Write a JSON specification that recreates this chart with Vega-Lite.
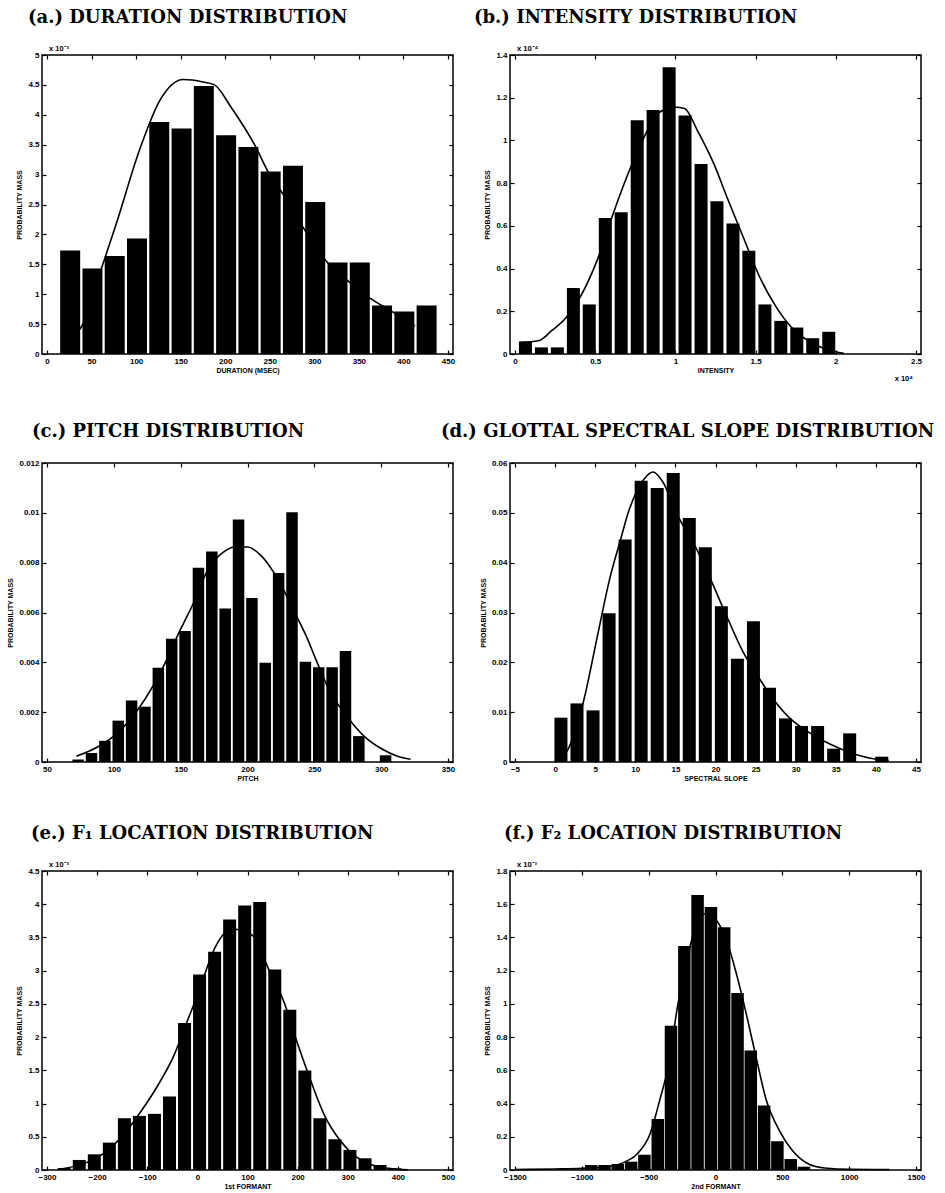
{
  "$schema": "https://vega.github.io/schema/vega-lite/v6.json",
  "background": "white",
  "padding": {"left": 6, "top": 8, "right": 5, "bottom": 5},
  "columns": 2,
  "spacing": {"column": 57, "row": 109},
  "bounds": "flush",
  "config": {
    "view": {"stroke": "black", "strokeWidth": 1.5},
    "axis": {"grid": false, "domain": false, "tickColor": "black", "tickSize": -4, "tickWidth": 1.2,
      "labelFont": "Liberation Sans", "labelFontSize": 8, "labelFontWeight": "bold", "labelColor": "black",
      "labelPadding": 7, "labelFlush": false, "labelOverlap": false, "format": "~r",
      "titleFont": "Liberation Sans", "titleFontSize": 7, "titleFontWeight": "bold", "titleColor": "black"},
    "axisY": {"titlePadding": 5},
    "axisX": {"titlePadding": 1},
    "title": {"font": "DejaVu Serif", "fontSize": 18, "fontWeight": "bold", "color": "black", "anchor": "start", "frame": "group", "offset": 18},
    "text": {"font": "Liberation Sans", "fontSize": 7.5, "fontWeight": "bold", "color": "black"}
  },
  "datasets": {
    "a_bars": [
      {"center": 26, "mass": 1.73}, {"center": 51, "mass": 1.43}, {"center": 76, "mass": 1.64}, {"center": 101, "mass": 1.93},
      {"center": 126, "mass": 3.88}, {"center": 151, "mass": 3.77}, {"center": 176, "mass": 4.48}, {"center": 201, "mass": 3.66},
      {"center": 226, "mass": 3.46}, {"center": 251, "mass": 3.05}, {"center": 276, "mass": 3.15}, {"center": 301, "mass": 2.54},
      {"center": 326, "mass": 1.53}, {"center": 351, "mass": 1.53}, {"center": 376, "mass": 0.81}, {"center": 401, "mass": 0.71},
      {"center": 426, "mass": 0.81}
    ],
    "a_curve": [
      {"x": 33, "y": 0.35}, {"x": 38, "y": 0.44}, {"x": 62, "y": 1.47}, {"x": 78, "y": 2.19}, {"x": 104, "y": 3.42},
      {"x": 127, "y": 4.25}, {"x": 153, "y": 4.59}, {"x": 175, "y": 4.55}, {"x": 188, "y": 4.5}, {"x": 206, "y": 4.14},
      {"x": 234, "y": 3.47}, {"x": 247, "y": 3.08}, {"x": 265, "y": 2.67}, {"x": 289, "y": 2.08}, {"x": 313, "y": 1.56},
      {"x": 338, "y": 1.22}, {"x": 362, "y": 0.94}, {"x": 386, "y": 0.72}, {"x": 413, "y": 0.47}
    ],
    "b_bars": [
      {"center": 0.065, "mass": 0.059}, {"center": 0.165, "mass": 0.031}, {"center": 0.264, "mass": 0.031}, {"center": 0.364, "mass": 0.309},
      {"center": 0.463, "mass": 0.232}, {"center": 0.563, "mass": 0.637}, {"center": 0.662, "mass": 0.664}, {"center": 0.762, "mass": 1.095},
      {"center": 0.861, "mass": 1.142}, {"center": 0.961, "mass": 1.343}, {"center": 1.06, "mass": 1.117}, {"center": 1.16, "mass": 0.89},
      {"center": 1.259, "mass": 0.715}, {"center": 1.359, "mass": 0.611}, {"center": 1.458, "mass": 0.484}, {"center": 1.558, "mass": 0.232},
      {"center": 1.657, "mass": 0.155}, {"center": 1.757, "mass": 0.124}, {"center": 1.856, "mass": 0.074}, {"center": 1.956, "mass": 0.104}
    ],
    "b_curve": [
      {"x": 0.034, "y": 0.054}, {"x": 0.146, "y": 0.062}, {"x": 0.227, "y": 0.108}, {"x": 0.318, "y": 0.17}, {"x": 0.409, "y": 0.27},
      {"x": 0.521, "y": 0.456}, {"x": 0.612, "y": 0.657}, {"x": 0.713, "y": 0.859}, {"x": 0.794, "y": 0.998}, {"x": 0.896, "y": 1.129},
      {"x": 0.997, "y": 1.156}, {"x": 1.057, "y": 1.149}, {"x": 1.139, "y": 1.044}, {"x": 1.24, "y": 0.89}, {"x": 1.321, "y": 0.735},
      {"x": 1.422, "y": 0.549}, {"x": 1.523, "y": 0.364}, {"x": 1.625, "y": 0.224}, {"x": 1.716, "y": 0.131}, {"x": 1.827, "y": 0.062},
      {"x": 1.95, "y": 0.02}, {"x": 2.05, "y": 0.003}
    ],
    "c_bars": [
      {"center": 73.3, "mass": 0.0001}, {"center": 83.3, "mass": 0.00036}, {"center": 93.3, "mass": 0.00085}, {"center": 103.3, "mass": 0.00166},
      {"center": 113.3, "mass": 0.00247}, {"center": 123.3, "mass": 0.00222}, {"center": 133.3, "mass": 0.00378}, {"center": 143.3, "mass": 0.00495},
      {"center": 153.3, "mass": 0.00526}, {"center": 163.3, "mass": 0.0078}, {"center": 173.3, "mass": 0.00845}, {"center": 183.3, "mass": 0.00616},
      {"center": 193.3, "mass": 0.00973}, {"center": 203.3, "mass": 0.00658}, {"center": 213.3, "mass": 0.00398}, {"center": 223.3, "mass": 0.00759},
      {"center": 233.3, "mass": 0.01002}, {"center": 243.3, "mass": 0.00402}, {"center": 253.3, "mass": 0.0038}, {"center": 263.3, "mass": 0.0038},
      {"center": 273.3, "mass": 0.00445}, {"center": 283.3, "mass": 0.00104}, {"center": 303.3, "mass": 0.00027}
    ],
    "c_curve": [
      {"x": 72, "y": 0.00023}, {"x": 87.8, "y": 0.0006}, {"x": 102.4, "y": 0.00115}, {"x": 119.5, "y": 0.00222}, {"x": 136.6, "y": 0.00378},
      {"x": 148.8, "y": 0.0052}, {"x": 159.8, "y": 0.0064}, {"x": 170.7, "y": 0.00775}, {"x": 180.5, "y": 0.00836}, {"x": 190.2, "y": 0.00863},
      {"x": 200, "y": 0.00863}, {"x": 209.8, "y": 0.0083}, {"x": 219.5, "y": 0.00762}, {"x": 229.3, "y": 0.00667}, {"x": 236.6, "y": 0.00587},
      {"x": 243.9, "y": 0.00506}, {"x": 251.2, "y": 0.00411}, {"x": 261, "y": 0.0029}, {"x": 275.6, "y": 0.00175}, {"x": 287.8, "y": 0.00101},
      {"x": 300, "y": 0.00054}, {"x": 312.2, "y": 0.00023}, {"x": 322, "y": 0.00011}
    ],
    "d_bars": [
      {"center": 0.73, "mass": 0.00889}, {"center": 2.73, "mass": 0.01176}, {"center": 4.73, "mass": 0.01036}, {"center": 6.73, "mass": 0.02987},
      {"center": 8.73, "mass": 0.04463}, {"center": 10.73, "mass": 0.05646}, {"center": 12.73, "mass": 0.05499}, {"center": 14.73, "mass": 0.058},
      {"center": 16.73, "mass": 0.04898}, {"center": 18.73, "mass": 0.0431}, {"center": 20.73, "mass": 0.03127}, {"center": 22.73, "mass": 0.02071},
      {"center": 24.73, "mass": 0.02826}, {"center": 26.73, "mass": 0.0149}, {"center": 28.73, "mass": 0.00875}, {"center": 30.73, "mass": 0.00722},
      {"center": 32.73, "mass": 0.00722}, {"center": 34.73, "mass": 0.00267}, {"center": 36.73, "mass": 0.00575}, {"center": 40.73, "mass": 0.00107}
    ],
    "d_curve": [
      {"x": 0.06, "y": 0.0002}, {"x": 1.6, "y": 0.0025}, {"x": 3.5, "y": 0.0119}, {"x": 5.32, "y": 0.0256}, {"x": 6.74, "y": 0.0363},
      {"x": 8.16, "y": 0.0446}, {"x": 9.17, "y": 0.0503}, {"x": 10.18, "y": 0.0543}, {"x": 11.2, "y": 0.057}, {"x": 12.2, "y": 0.0582},
      {"x": 13.4, "y": 0.0563}, {"x": 15.24, "y": 0.0496}, {"x": 17.55, "y": 0.043}, {"x": 19.3, "y": 0.037}, {"x": 21.3, "y": 0.0296},
      {"x": 23.4, "y": 0.0222}, {"x": 25.4, "y": 0.0169}, {"x": 27.4, "y": 0.0122}, {"x": 29.4, "y": 0.0086}, {"x": 31.4, "y": 0.0062},
      {"x": 33.5, "y": 0.0042}, {"x": 35.5, "y": 0.0027}, {"x": 37.5, "y": 0.0015}, {"x": 39.5, "y": 0.0007}, {"x": 41.6, "y": 0.0003}
    ],
    "e_bars": [
      {"center": -265.6, "mass": 0.03}, {"center": -235.6, "mass": 0.151}, {"center": -205.6, "mass": 0.236}, {"center": -175.6, "mass": 0.412},
      {"center": -145.6, "mass": 0.779}, {"center": -115.6, "mass": 0.814}, {"center": -85.6, "mass": 0.845}, {"center": -55.6, "mass": 1.106},
      {"center": -25.6, "mass": 2.212}, {"center": 4.4, "mass": 2.941}, {"center": 34.4, "mass": 3.283}, {"center": 64.4, "mass": 3.771},
      {"center": 94.4, "mass": 3.982}, {"center": 124.4, "mass": 4.032}, {"center": 154.4, "mass": 3.017}, {"center": 184.4, "mass": 2.413},
      {"center": 214.4, "mass": 1.498}, {"center": 244.4, "mass": 0.779}, {"center": 274.4, "mass": 0.463}, {"center": 304.4, "mass": 0.302},
      {"center": 334.4, "mass": 0.176}, {"center": 364.4, "mass": 0.075}, {"center": 394.4, "mass": 0.025}
    ],
    "e_curve": [
      {"x": -272, "y": 0.015}, {"x": -216.7, "y": 0.126}, {"x": -177.7, "y": 0.3}, {"x": -145.2, "y": 0.553}, {"x": -112.7, "y": 0.88},
      {"x": -80.2, "y": 1.257}, {"x": -47.6, "y": 1.709}, {"x": -21.6, "y": 2.212}, {"x": 4.4, "y": 2.715}, {"x": 30.4, "y": 3.27},
      {"x": 50, "y": 3.53}, {"x": 69.4, "y": 3.63}, {"x": 92.2, "y": 3.59}, {"x": 111.7, "y": 3.52}, {"x": 142.3, "y": 3.02},
      {"x": 173.5, "y": 2.514}, {"x": 199.5, "y": 1.91}, {"x": 225.5, "y": 1.357}, {"x": 254.8, "y": 0.804}, {"x": 284, "y": 0.452},
      {"x": 316.6, "y": 0.201}, {"x": 349, "y": 0.075}, {"x": 381.6, "y": 0.025}, {"x": 420.6, "y": 0.003}
    ],
    "f_bars": [
      {"center": -930, "mass": 0.03}, {"center": -830, "mass": 0.03}, {"center": -731, "mass": 0.036}, {"center": -631, "mass": 0.05},
      {"center": -532, "mass": 0.092}, {"center": -432, "mass": 0.307}, {"center": -333, "mass": 0.868}, {"center": -233, "mass": 1.348},
      {"center": -134, "mass": 1.655}, {"center": -34, "mass": 1.583}, {"center": 65, "mass": 1.462}, {"center": 165, "mass": 1.065},
      {"center": 264, "mass": 0.719}, {"center": 364, "mass": 0.388}, {"center": 463, "mass": 0.173}, {"center": 563, "mass": 0.066},
      {"center": 662, "mass": 0.02}
    ],
    "f_curve": [
      {"x": -1500, "y": 0.003}, {"x": -1200, "y": 0.006}, {"x": -1000, "y": 0.01}, {"x": -800, "y": 0.02}, {"x": -684, "y": 0.046},
      {"x": -587, "y": 0.096}, {"x": -490, "y": 0.217}, {"x": -418, "y": 0.418}, {"x": -345, "y": 0.659}, {"x": -285, "y": 0.98},
      {"x": -224, "y": 1.221}, {"x": -151, "y": 1.462}, {"x": -79, "y": 1.543}, {"x": 6, "y": 1.503}, {"x": 91, "y": 1.362},
      {"x": 163, "y": 1.161}, {"x": 236, "y": 0.92}, {"x": 309, "y": 0.659}, {"x": 381, "y": 0.418}, {"x": 478, "y": 0.237},
      {"x": 575, "y": 0.117}, {"x": 696, "y": 0.036}, {"x": 817, "y": 0.012}, {"x": 1011, "y": 0.004}, {"x": 1300, "y": 0.003}
    ]
  },
  "concat": [
    {
      "title": {"text": "(a.) DURATION DISTRIBUTION", "dx": -14},
      "width": 411, "height": 299,
      "resolve": {"axis": {"x": "independent", "y": "independent"}},
      "layer": [
        {"data": {"name": "a_bars"}, "mark": {"type": "bar", "color": "black", "size": 20},
          "encoding": {
            "x": {"field": "center", "type": "quantitative", "scale": {"domain": [0, 450], "nice": false, "zero": false},
              "axis": {"values": [0, 50, 100, 150, 200, 250, 300, 350, 400, 450], "title": "DURATION (MSEC)"}},
            "y": {"field": "mass", "type": "quantitative", "scale": {"domain": [0, 5], "nice": false},
              "axis": {"values": [0, 0.5, 1, 1.5, 2, 2.5, 3, 3.5, 4, 4.5, 5], "title": "PROBABILITY MASS"}}}},
        {"data": {"name": "a_curve"}, "mark": {"type": "line", "color": "black", "strokeWidth": 1.6, "interpolate": "monotone"},
          "encoding": {
            "x": {"field": "x", "type": "quantitative", "scale": {"domain": [0, 450], "nice": false, "zero": false},
              "axis": {"orient": "top", "labels": false, "title": null, "values": [0, 50, 100, 150, 200, 250, 300, 350, 400, 450]}},
            "y": {"field": "y", "type": "quantitative", "scale": {"domain": [0, 5], "nice": false},
              "axis": {"orient": "right", "labels": false, "title": null, "values": [0, 0.5, 1, 1.5, 2, 2.5, 3, 3.5, 4, 4.5, 5]}}}},
        {"data": {"values": [{"label": "x 10⁻³"}]}, "mark": {"type": "text", "align": "left", "baseline": "bottom", "dx": 2, "dy": -2},
          "encoding": {"x": {"datum": 0, "axis": null}, "y": {"datum": 5, "axis": null}, "text": {"field": "label"}}}
      ]
    },
    {
      "title": {"text": "(b.) INTENSITY DISTRIBUTION", "dx": -36},
      "width": 411, "height": 299,
      "resolve": {"axis": {"x": "independent", "y": "independent"}},
      "layer": [
        {"data": {"name": "b_bars"}, "mark": {"type": "bar", "color": "black", "size": 13},
          "encoding": {
            "x": {"field": "center", "type": "quantitative", "scale": {"domain": [0, 2.5], "nice": false, "zero": false},
              "axis": {"values": [0, 0.5, 1, 1.5, 2, 2.5], "title": "INTENSITY"}},
            "y": {"field": "mass", "type": "quantitative", "scale": {"domain": [0, 1.4], "nice": false},
              "axis": {"values": [0, 0.2, 0.4, 0.6, 0.8, 1, 1.2, 1.4], "title": "PROBABILITY MASS"}}}},
        {"data": {"name": "b_curve"}, "mark": {"type": "line", "color": "black", "strokeWidth": 1.6, "interpolate": "monotone"},
          "encoding": {
            "x": {"field": "x", "type": "quantitative", "scale": {"domain": [0, 2.5], "nice": false, "zero": false},
              "axis": {"orient": "top", "labels": false, "title": null, "values": [0, 0.5, 1, 1.5, 2, 2.5]}},
            "y": {"field": "y", "type": "quantitative", "scale": {"domain": [0, 1.4], "nice": false},
              "axis": {"orient": "right", "labels": false, "title": null, "values": [0, 0.2, 0.4, 0.6, 0.8, 1, 1.2, 1.4]}}}},
        {"data": {"values": [{"label": "x 10⁻⁴"}]}, "mark": {"type": "text", "align": "left", "baseline": "bottom", "dx": 2, "dy": -2},
          "encoding": {"x": {"datum": 0, "axis": null}, "y": {"datum": 1.4, "axis": null}, "text": {"field": "label"}}},
        {"data": {"values": [{"label": "x 10⁴"}]}, "mark": {"type": "text", "align": "right", "baseline": "middle", "dx": -3, "dy": 25},
          "encoding": {"x": {"datum": 2.5, "axis": null}, "y": {"datum": 0, "axis": null}, "text": {"field": "label"}}}
      ]
    },
    {
      "title": {"text": "(c.) PITCH DISTRIBUTION", "dx": -10},
      "width": 411, "height": 299,
      "resolve": {"axis": {"x": "independent", "y": "independent"}},
      "layer": [
        {"data": {"name": "c_bars"}, "mark": {"type": "bar", "color": "black", "size": 11.5},
          "encoding": {
            "x": {"field": "center", "type": "quantitative", "scale": {"domain": [50, 350], "nice": false, "zero": false},
              "axis": {"values": [50, 100, 150, 200, 250, 300, 350], "title": "PITCH"}},
            "y": {"field": "mass", "type": "quantitative", "scale": {"domain": [0, 0.012], "nice": false},
              "axis": {"values": [0, 0.002, 0.004, 0.006, 0.008, 0.01, 0.012], "title": "PROBABILITY MASS"}}}},
        {"data": {"name": "c_curve"}, "mark": {"type": "line", "color": "black", "strokeWidth": 1.6, "interpolate": "monotone"},
          "encoding": {
            "x": {"field": "x", "type": "quantitative", "scale": {"domain": [50, 350], "nice": false, "zero": false},
              "axis": {"orient": "top", "labels": false, "title": null, "values": [50, 100, 150, 200, 250, 300, 350]}},
            "y": {"field": "y", "type": "quantitative", "scale": {"domain": [0, 0.012], "nice": false},
              "axis": {"orient": "right", "labels": false, "title": null, "values": [0, 0.002, 0.004, 0.006, 0.008, 0.01, 0.012]}}}}
      ]
    },
    {
      "title": {"text": "(d.) GLOTTAL SPECTRAL SLOPE DISTRIBUTION", "dx": -69},
      "width": 411, "height": 299,
      "resolve": {"axis": {"x": "independent", "y": "independent"}},
      "layer": [
        {"data": {"name": "d_bars"}, "mark": {"type": "bar", "color": "black", "size": 13},
          "encoding": {
            "x": {"field": "center", "type": "quantitative", "scale": {"domain": [-5, 45], "nice": false, "zero": false},
              "axis": {"values": [-5, 0, 5, 10, 15, 20, 25, 30, 35, 40, 45], "title": "SPECTRAL SLOPE"}},
            "y": {"field": "mass", "type": "quantitative", "scale": {"domain": [0, 0.06], "nice": false},
              "axis": {"values": [0, 0.01, 0.02, 0.03, 0.04, 0.05, 0.06], "title": "PROBABILITY MASS"}}}},
        {"data": {"name": "d_curve"}, "mark": {"type": "line", "color": "black", "strokeWidth": 1.6, "interpolate": "monotone"},
          "encoding": {
            "x": {"field": "x", "type": "quantitative", "scale": {"domain": [-5, 45], "nice": false, "zero": false},
              "axis": {"orient": "top", "labels": false, "title": null, "values": [-5, 0, 5, 10, 15, 20, 25, 30, 35, 40, 45]}},
            "y": {"field": "y", "type": "quantitative", "scale": {"domain": [0, 0.06], "nice": false},
              "axis": {"orient": "right", "labels": false, "title": null, "values": [0, 0.01, 0.02, 0.03, 0.04, 0.05, 0.06]}}}}
      ]
    },
    {
      "title": {"text": "(e.) F₁ LOCATION DISTRIBUTION", "dx": -11},
      "width": 411, "height": 299,
      "resolve": {"axis": {"x": "independent", "y": "independent"}},
      "layer": [
        {"data": {"name": "e_bars"}, "mark": {"type": "bar", "color": "black", "size": 13},
          "encoding": {
            "x": {"field": "center", "type": "quantitative", "scale": {"domain": [-300, 500], "nice": false, "zero": false},
              "axis": {"values": [-300, -200, -100, 0, 100, 200, 300, 400, 500], "title": "1st FORMANT"}},
            "y": {"field": "mass", "type": "quantitative", "scale": {"domain": [0, 4.5], "nice": false},
              "axis": {"values": [0, 0.5, 1, 1.5, 2, 2.5, 3, 3.5, 4, 4.5], "title": "PROBABILITY MASS"}}}},
        {"data": {"name": "e_curve"}, "mark": {"type": "line", "color": "black", "strokeWidth": 1.6, "interpolate": "monotone"},
          "encoding": {
            "x": {"field": "x", "type": "quantitative", "scale": {"domain": [-300, 500], "nice": false, "zero": false},
              "axis": {"orient": "top", "labels": false, "title": null, "values": [-300, -200, -100, 0, 100, 200, 300, 400, 500]}},
            "y": {"field": "y", "type": "quantitative", "scale": {"domain": [0, 4.5], "nice": false},
              "axis": {"orient": "right", "labels": false, "title": null, "values": [0, 0.5, 1, 1.5, 2, 2.5, 3, 3.5, 4, 4.5]}}}},
        {"data": {"values": [{"label": "x 10⁻³"}]}, "mark": {"type": "text", "align": "left", "baseline": "bottom", "dx": 2, "dy": -2},
          "encoding": {"x": {"datum": -300, "axis": null}, "y": {"datum": 4.5, "axis": null}, "text": {"field": "label"}}}
      ]
    },
    {
      "title": {"text": "(f.) F₂ LOCATION DISTRIBUTION", "dx": -6},
      "width": 411, "height": 299,
      "resolve": {"axis": {"x": "independent", "y": "independent"}},
      "layer": [
        {"data": {"name": "f_bars"}, "mark": {"type": "bar", "color": "black", "size": 12.5},
          "encoding": {
            "x": {"field": "center", "type": "quantitative", "scale": {"domain": [-1500, 1500], "nice": false, "zero": false},
              "axis": {"values": [-1500, -1000, -500, 0, 500, 1000, 1500], "title": "2nd FORMANT"}},
            "y": {"field": "mass", "type": "quantitative", "scale": {"domain": [0, 1.8], "nice": false},
              "axis": {"values": [0, 0.2, 0.4, 0.6, 0.8, 1, 1.2, 1.4, 1.6, 1.8], "title": "PROBABILITY MASS"}}}},
        {"data": {"name": "f_curve"}, "mark": {"type": "line", "color": "black", "strokeWidth": 1.6, "interpolate": "monotone"},
          "encoding": {
            "x": {"field": "x", "type": "quantitative", "scale": {"domain": [-1500, 1500], "nice": false, "zero": false},
              "axis": {"orient": "top", "labels": false, "title": null, "values": [-1500, -1000, -500, 0, 500, 1000, 1500]}},
            "y": {"field": "y", "type": "quantitative", "scale": {"domain": [0, 1.8], "nice": false},
              "axis": {"orient": "right", "labels": false, "title": null, "values": [0, 0.2, 0.4, 0.6, 0.8, 1, 1.2, 1.4, 1.6, 1.8]}}}},
        {"data": {"values": [{"label": "x 10⁻³"}]}, "mark": {"type": "text", "align": "left", "baseline": "bottom", "dx": 2, "dy": -2},
          "encoding": {"x": {"datum": -1500, "axis": null}, "y": {"datum": 1.8, "axis": null}, "text": {"field": "label"}}}
      ]
    }
  ]
}
